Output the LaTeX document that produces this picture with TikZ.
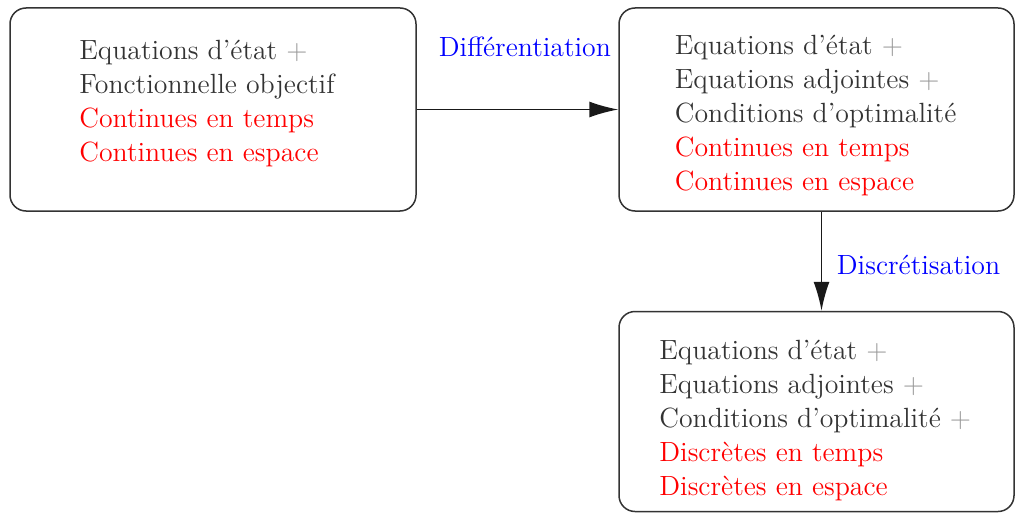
\documentclass[tikz,border=0pt]{standalone}
\usepackage{fontspec}
\usetikzlibrary{arrows.meta}
\definecolor{txt}{gray}{0.2}
\definecolor{plus}{gray}{0.6}
\tikzset{
  box/.style={draw=black!80, line width=0.75pt, rounded corners=8pt, rectangle, inner sep=0pt},
  lines/.style={anchor=base west, align=left, inner sep=0pt, text=txt,
    font=\fontsize{13.9}{17}\selectfont},
  lbl/.style={anchor=base west, inner sep=0pt, text=blue, font=\fontsize{13.9}{17}\selectfont},
  conn/.style={draw=black!90, line width=0.75pt, -{Latex[length=14.5pt,width=8pt]}}
}
\newcommand{\pl}{\textcolor{plus}{+}}
\begin{document}
\begin{tikzpicture}[x=0.5pt,y=-0.5pt]
\useasboundingbox (0,0) rectangle (1015,513);
\node[box, minimum width=203pt, minimum height=101.5pt] (b1) at (213,109.5) {};
\node[box, minimum width=197.5pt, minimum height=101.5pt] (b2) at (816.5,109.5) {};
\node[box, minimum width=197.5pt, minimum height=100pt] (b3) at (816.5,411.5) {};
% anchors at the baseline of the last line
\node[lines] (t1) at (79,161.5) {Equations d'état \pl\\Fonctionnelle objectif\\\textcolor{red}{Continues en temps}\\\textcolor{red}{Continues en espace}};
\node[lines] (t2) at (674.5,190.5) {Equations d'état \pl\\Equations adjointes \pl\\Conditions d'optimalité\\\textcolor{red}{Continues en temps}\\\textcolor{red}{Continues en espace}};
\node[lines] (t3) at (659,495.5) {Equations d'état \pl\\Equations adjointes \pl\\Conditions d'optimalité \pl\\\textcolor{red}{Discrètes en temps}\\\textcolor{red}{Discrètes en espace}};
\draw[conn] (b1.east) -- (b2.west);
\draw[conn] ([xshift=2.5pt]b2.south) -- ([xshift=2.5pt]b3.north);
\node[lbl] (l1) at (438.5,56.5) {Différentiation};
\node[lbl] (l2) at (836.5,274) {Discrétisation};
\end{tikzpicture}
\end{document}
